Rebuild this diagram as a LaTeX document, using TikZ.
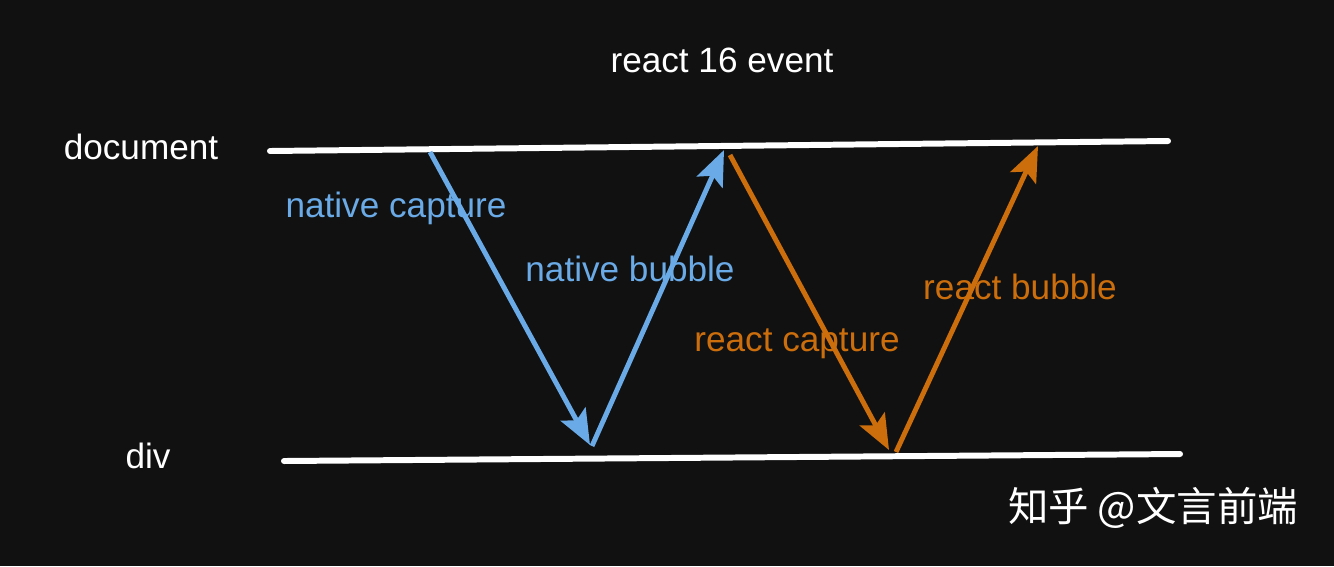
\documentclass[tikz,border=0pt]{standalone}
\usepackage{fontspec}
\setmainfont{Liberation Sans}
\newfontfamily\cjk{Noto Sans CJK SC}
\usetikzlibrary{arrows.meta}
\definecolor{bgdark}{RGB}{17,17,17}
\definecolor{nativeblue}{RGB}{106,170,230}
\definecolor{reactorange}{RGB}{204,110,12}
\begin{document}
\begin{tikzpicture}[x=0.01cm,y=-0.01cm,
    level/.style={white,line width=1.7pt,line cap=round},
    flow/.style={line width=1.4pt,-{Stealth[length=10pt,width=8pt,inset=2pt]}},
    lbl/.style={font=\fontsize{10}{12}\selectfont,inner sep=0pt}]

    % Background
    \fill[bgdark] (0,0) rectangle (1334,566);
    \useasboundingbox (0,0) rectangle (1334,566);

    % The two levels
    \coordinate (docL) at (270,151);
    \coordinate (docR) at (1168,141);
    \coordinate (divL) at (284,461);
    \coordinate (divR) at (1180,454);
    \draw[level] (docL) -- (docR);
    \draw[level] (divL) -- (divR);

    % End points of the flows
    \coordinate (ncTop) at (430,152);
    \coordinate (ncBot) at (590,445);
    \coordinate (nbBot) at (592,446);
    \coordinate (nbTop) at (724,150);
    \coordinate (rcTop) at (730,155);
    \coordinate (rcBot) at (889,450);
    \coordinate (rbBot) at (896,452);
    \coordinate (rbTop) at (1038,146);

    % Native phases
    \draw[flow,nativeblue] (ncTop) -- (ncBot);
    \draw[flow,nativeblue] (nbBot) -- (nbTop);

    % React phases
    \draw[flow,reactorange] (rcTop) -- (rcBot);
    \draw[flow,reactorange] (rbBot) -- (rbTop);

    % Labels
    \node[lbl,white] (title) at (722,60) {react 16 event};
    \node[lbl,white] (document) at (141,147) {document};
    \node[lbl,white] (div) at (148,456) {div};
    \node[lbl,nativeblue] (ncap) at (396,208) {native capture};
    \node[lbl,nativeblue] (nbub) at (630,269) {native bubble};
    \node[lbl,reactorange] (rcap) at (797,344) {react capture};
    \node[lbl,reactorange] (rbub) at (1020,287) {react bubble};
    \node[white,inner sep=0pt,font=\cjk\fontsize{11.5}{13}\selectfont] (mark) at (1153,508) {知乎 @文言前端};

\end{tikzpicture}
\end{document}
